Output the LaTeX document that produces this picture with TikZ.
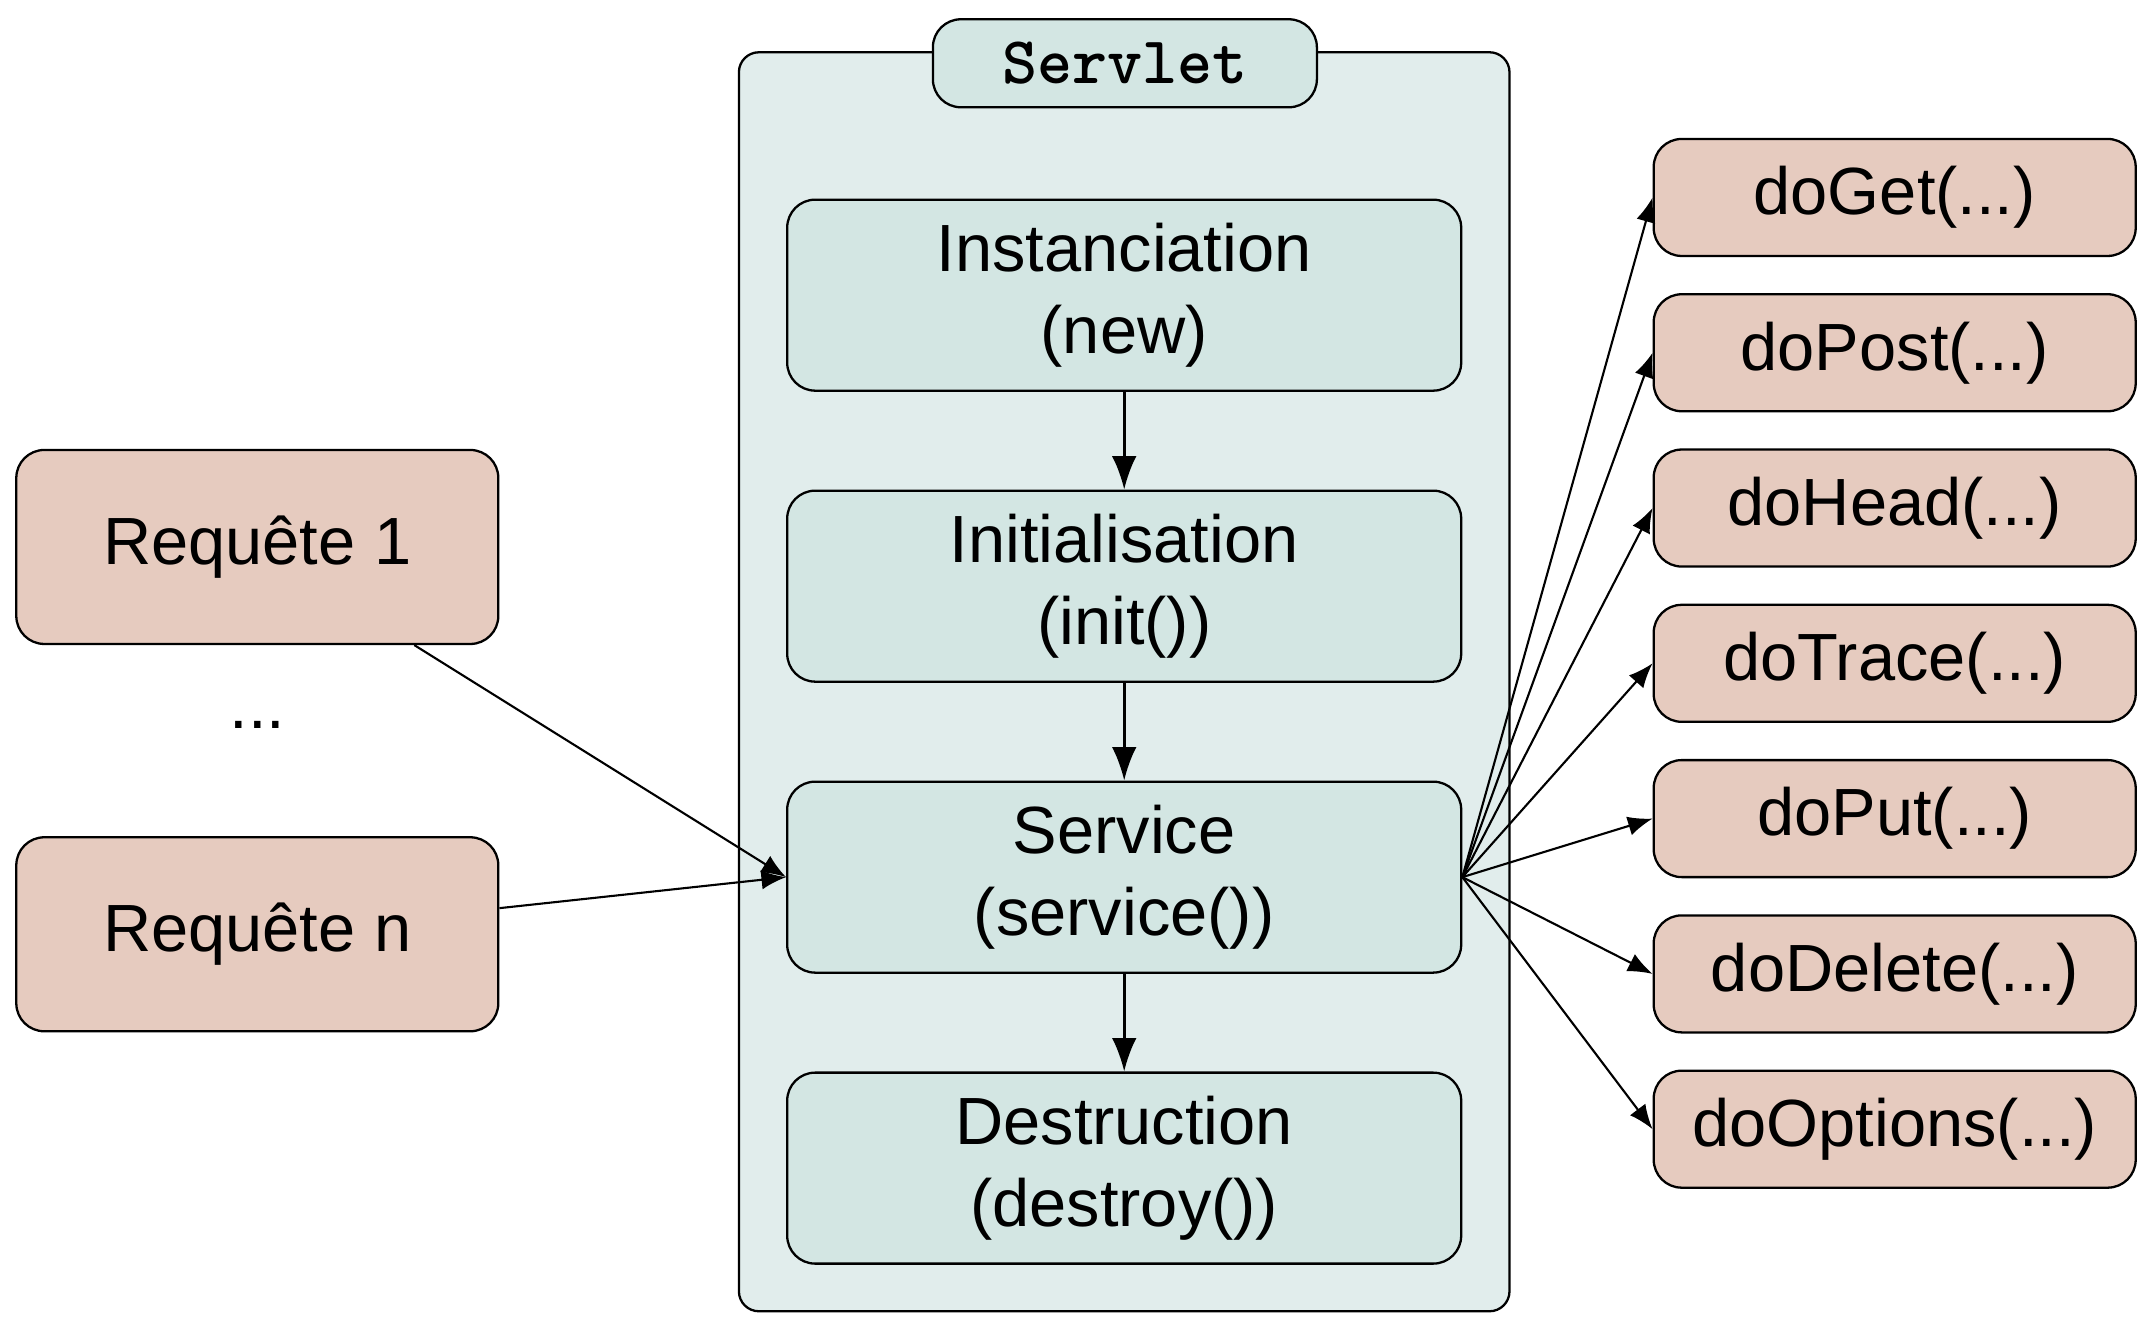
\documentclass[tikz,border=0pt]{standalone}
\usepackage{fontspec}
\setmainfont{Liberation Sans}
\usetikzlibrary{positioning, arrows.meta}
\definecolor{servletbg}{HTML}{E1EDEC}
\definecolor{stagefill}{HTML}{D3E6E3}
\definecolor{callfill}{HTML}{E6CBBF}
\tikzset{
stage/.style={draw, rounded corners=0.28cm, fill=stagefill, line width=0.65pt, minimum width=6.74cm, minimum height=1.91cm, align=center, font=\fontsize{19}{23.2}\selectfont}, % one step of the servlet life
request/.style={draw, rounded corners=0.28cm, fill=callfill, line width=0.65pt, minimum width=4.82cm, minimum height=1.94cm, font=\fontsize{19}{23.2}\selectfont},
method/.style={draw, rounded corners=0.28cm, fill=callfill, line width=0.65pt, minimum width=4.82cm, minimum height=1.17cm, font=\fontsize{19}{23.2}\selectfont},
flow/.style={-{Latex[length=9.5pt,width=7pt]}, line width=0.8pt}, % arrows between the steps
call/.style={-{Latex[length=7pt,width=5.5pt]}, line width=0.6pt}, % arrows to the methods
}

\begin{document}
\begin{tikzpicture}
    \useasboundingbox (0,0) rectangle (21.55,13.32);
    % servlet container
    \draw[rounded corners=0.2cm, fill=servletbg, line width=0.65pt] (7.389,0.207) rectangle (15.095,12.797);
    \node[draw, rounded corners=0.28cm, fill=stagefill, line width=0.65pt, minimum width=3.84cm, minimum height=0.88cm, font=\fontsize{19}{23}\selectfont\ttfamily\bfseries] (servlet) at (11.249,12.687) {Servlet};

    \node[stage] (inst) at (11.242,10.368) {Instanciation\\(new)};
    \node[stage, below=0.977cm of inst] (init) {Initialisation\\(init())};
    \node[stage, below=0.977cm of init] (serv) {Service\\(service())};
    \node[stage, below=0.977cm of serv] (dest) {Destruction\\(destroy())};

    \node[request] (req1) at (2.573,7.85) {Requête 1};
    \node[request] (reqn) at (2.573,3.977) {Requête n};
    \node[font=\fontsize{19}{23.2}\selectfont] (dots) at (2.573,6.07) {...};

    \node[method] (get) at (18.947,11.345) {doGet(...)};
    \node[method, below=0.36cm of get] (post) {doPost(...)};
    \node[method, below=0.36cm of post] (head) {doHead(...)};
    \node[method, below=0.36cm of head] (trace) {doTrace(...)};
    \node[method, below=0.36cm of trace] (put) {doPut(...)};
    \node[method, below=0.36cm of put] (delete) {doDelete(...)};
    \node[method, below=0.36cm of delete] (options) {doOptions(...)};

    \draw[flow] (inst) -- (init);
    \draw[flow] (init) -- (serv);
    \draw[flow] (serv) -- (dest);

    \draw[call] (req1) -- (serv.west);
    \draw[call] (reqn) -- (serv.west);

    \draw[call] (serv.east) -- (get.west);
    \draw[call] (serv.east) -- (post.west);
    \draw[call] (serv.east) -- (head.west);
    \draw[call] (serv.east) -- (trace.west);
    \draw[call] (serv.east) -- (put.west);
    \draw[call] (serv.east) -- (delete.west);
    \draw[call] (serv.east) -- (options.west);
\end{tikzpicture}
\end{document}
